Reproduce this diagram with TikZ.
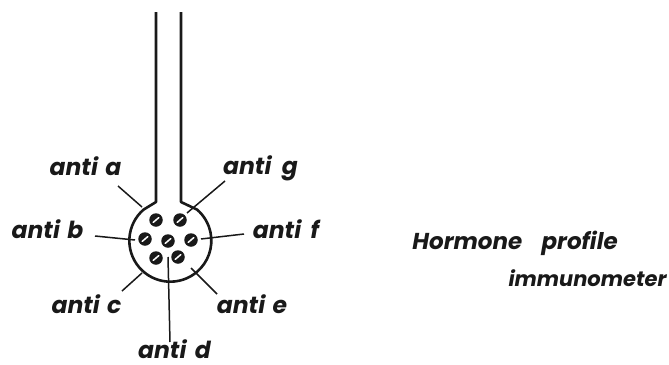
\documentclass[tikz,border=0pt]{standalone}
\usepackage{fontspec}
\setmainfont{Poppins}
\usetikzlibrary{calc}
\tikzset{
 lab/.style={font=\fontsize{23.5}{26}\selectfont\bfseries\itshape,inner sep=0pt,anchor=base,text=black!90},
 wall/.style={line width=2.6pt,black!90,line join=round},
 lead/.style={line width=1.5pt,black!90},
 bead/.style={circle,fill=black!90,minimum size=13.5pt,inner sep=0pt},
 slash/.style={white,line width=1.5pt,line cap=round}
}
\newcommand{\beadat}[3]{\node[bead] (#1) at (#2,-#3) {};\draw[slash] ($(#1)+(-2.8pt,-2.4pt)$) -- ($(#1)+(2.8pt,2.4pt)$);}
\begin{document}
\begin{tikzpicture}[x=1pt,y=1pt]
\useasboundingbox (0,0) rectangle (669,-364);
\draw[wall] (156,-12) -- (156,-202) -- (143.6,-209.6)
  arc[start angle=130.7,end angle=409.3,radius=41] -- (181,-202) -- (181,-12);
\beadat{b1}{156}{220}
\beadat{b2}{180}{220}
\beadat{b3}{145}{239}
\beadat{b4}{168}{241}
\beadat{b5}{191}{240}
\beadat{b6}{156}{258}
\beadat{b7}{178}{257}
\node[lab] (la) at (85.5,-175) {anti\hspace{2pt} a};
\node[lab] (lg) at (260.5,-174) {anti\hspace{5pt} g};
\node[lab] (lb) at (47.5,-238) {anti\hspace{2pt} b};
\node[lab] (lf) at (286,-238) {anti\hspace{4pt} f};
\node[lab] (lc) at (86.5,-313) {anti\hspace{2pt} c};
\node[lab] (le) at (252,-313) {anti\hspace{2pt} e};
\node[lab] (ld) at (174.5,-358.5) {anti\hspace{3pt} d};
\node[lab,font=\fontsize{23}{26}\selectfont\bfseries\itshape] (t1) at (515,-249) {Hormone\hspace{14pt} profile};
\node[lab,font=\fontsize{21}{24}\selectfont\bfseries\itshape] (t2) at (587.5,-286) {immunometer};
\coordinate (a0) at (118,-186); \coordinate (a1) at (142,-207);
\coordinate (g0) at (225,-181); \coordinate (g1) at (187,-213);
\coordinate (b0) at (95,-236); \coordinate (b1x) at (135,-240);
\coordinate (f0) at (244,-234); \coordinate (f1) at (201,-239);
\coordinate (c0) at (122,-291); \coordinate (c1) at (142,-273);
\coordinate (e0) at (217,-294); \coordinate (e1) at (191,-268);
\coordinate (d0) at (170,-342); \coordinate (d1) at (168,-257);
\foreach \p/\q in {a0/a1,g0/g1,b0/b1x,f0/f1,c0/c1,e0/e1,d0/d1} \draw[lead] (\p) -- (\q);
\end{tikzpicture}
\end{document}
